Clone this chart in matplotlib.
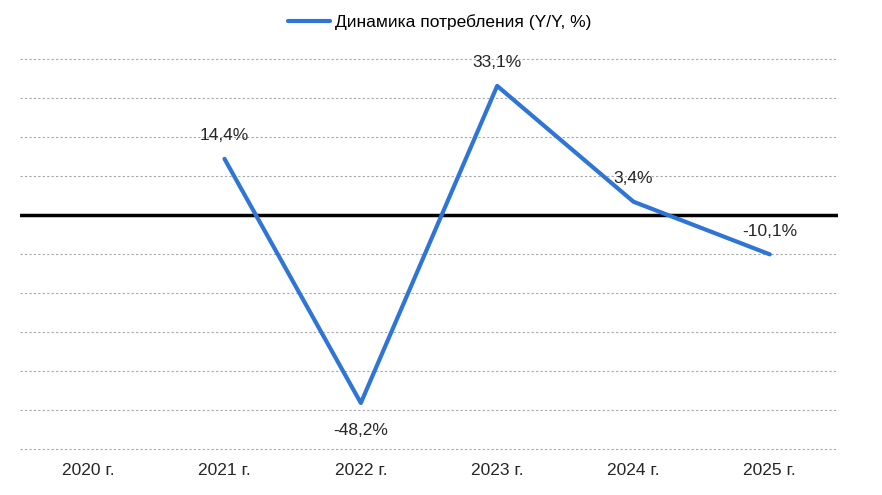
import matplotlib
matplotlib.use("Agg")
import matplotlib.pyplot as plt
from matplotlib import font_manager

names = {f.name for f in font_manager.fontManager.ttflist}
fam = "Liberation Sans Narrow" if "Liberation Sans Narrow" in names else "Liberation Sans"
plt.rcParams['font.family'] = [fam, 'DejaVu Sans']

years = ["2020 г.", "2021 г.", "2022 г.", "2023 г.", "2024 г.", "2025 г."]
values = [None, 14.4, -48.2, 33.1, 3.4, -10.1]
labels = ["", "14,4%", "-48,2%", "33,1%", "3,4%", "-10,1%"]
label_pos = ["", "above", "below", "above", "above", "above"]

fig = plt.figure(figsize=(8.82, 4.95), dpi=100)
ax = fig.add_axes([20/882, 1-449/495, 818/882, 390/495])

xs = [i for i, v in enumerate(values) if v is not None]
ys = [v for v in values if v is not None]

ax.set_xlim(-0.5, len(years) - 0.5)
ax.set_ylim(-60, 40)

# dotted grid, solid zero line
for y in range(-60, 41, 10):
    if y == 0:
        continue
    ax.axhline(y, color="#a6a6a6", lw=0.8, ls=(0, (2, 2)), zorder=1, clip_on=False)
ax.axhline(0, color="black", lw=2.5, zorder=2)

line, = ax.plot(xs, ys, color="#2e75d6", lw=3, solid_capstyle="round", zorder=3,
                label="Динамика потребления (Y/Y, %)")

for x, v, t, p in zip(range(len(values)), values, labels, label_pos):
    if v is None:
        continue
    off = 23 if p == "above" else -28
    ax.annotate(t, (x, v), xytext=(0, off), textcoords="offset pixels",
                ha="center", va="center", fontsize=12.5, color="#262626")

ax.set_xticks(range(len(years)))
ax.set_xticklabels(years, fontsize=12.5, color="#262626")
ax.tick_params(axis="x", length=0, pad=10)
ax.set_yticks([])
for s in ax.spines.values():
    s.set_visible(False)

fig.legend(handles=[line], loc="center", bbox_to_anchor=(440/882, 1-22/495),
           frameon=False, fontsize=12.5, handlelength=2.4, handletextpad=0.3)

fig.savefig("out.png", dpi=100)
